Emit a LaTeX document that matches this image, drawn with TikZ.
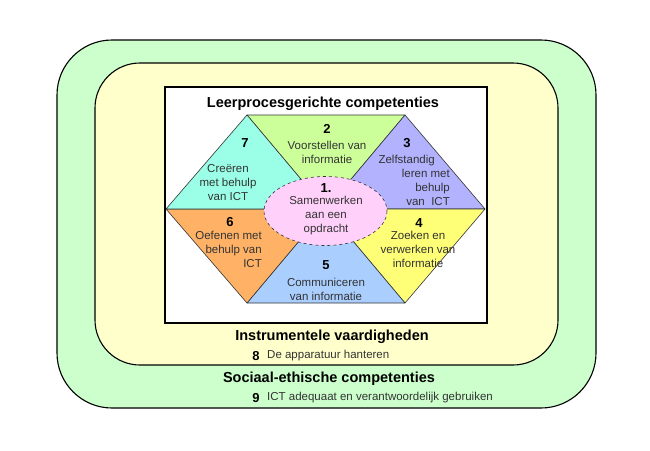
\documentclass[tikz,border=0pt]{standalone}
\usepackage{fontspec}
\setmainfont{Liberation Sans}
\definecolor{mint}{RGB}{204, 255, 204}
\definecolor{cream}{RGB}{255, 255, 204}
\definecolor{lime}{RGB}{204, 255, 153}
\definecolor{aqua}{RGB}{155, 255, 232}
\definecolor{lavender}{RGB}{178, 178, 255}
\definecolor{sun}{RGB}{255, 255, 119}
\definecolor{apricot}{RGB}{255, 178, 102}
\definecolor{sky}{RGB}{170, 207, 255}
\definecolor{blush}{RGB}{255, 208, 250}
\definecolor{ink}{RGB}{51, 51, 51}

\begin{document}
\begin{tikzpicture}[x=1pt, y=-1pt,
    txt/.style={inner sep=0pt, align=center, text=ink, font=\fontsize{11.5}{14}\selectfont},
    num/.style={inner sep=0pt, font=\bfseries\fontsize{13}{15}\selectfont},
    heading/.style={inner sep=0pt, font=\bfseries\fontsize{14.5}{17}\selectfont},
    wedge/.style={draw=ink, line width=0.6pt, line join=round}]
            \useasboundingbox                                        (0, 0) rectangle (650, 450);
            \filldraw[fill=mint,  line width=1.1pt, rounded corners=55pt] (57, 40) rectangle (596, 408);
            \filldraw[fill=cream, line width=1.1pt, rounded corners=45pt] (95, 63) rectangle (558, 365);
            \filldraw[fill=white, line width=1.1pt]                  (165, 87) rectangle (487, 323);
            % hexagon
            \coordinate (mid) at (326, 209);
            \coordinate (nw)  at (247, 115);
            \coordinate (ne)  at (405, 115);
            \coordinate (w)   at (166, 209);
            \coordinate (e)   at (485, 209);
            \coordinate (sw)  at (247, 303);
            \coordinate (se)  at (405, 303);
            \filldraw[wedge, fill=lime]     (nw) -- (ne) -- (mid) -- cycle;
            \filldraw[wedge, fill=lavender] (ne) -- (e)  -- (mid) -- cycle;
            \filldraw[wedge, fill=sun]      (e)  -- (se) -- (mid) -- cycle;
            \filldraw[wedge, fill=sky]      (se) -- (sw) -- (mid) -- cycle;
            \filldraw[wedge, fill=apricot]  (sw) -- (w)  -- (mid) -- cycle;
            \filldraw[wedge, fill=aqua]     (w)  -- (nw) -- (mid) -- cycle;
            \filldraw[draw=ink, fill=blush, dashed, line width=0.6pt] (325.5, 211) ellipse (61.5 and 34.5);
            % texts
            \node[heading] (title) at (323, 104) {Leerprocesgerichte competenties};
            \node[num] (n1) at (326, 188) {1.};
            \node[txt] (t1) at (326, 216) {Samenwerken\\aan een\\opdracht};
            \node[num] (n2) at (327, 129) {2};
            \node[txt] (t2) at (327, 152) {Voorstellen van\\informatie};
            \node[num] (n3) at (407, 143) {3};
            \node[txt, align=right, anchor=east] (t3) at (450, 180.5) {Zelfstandig\hspace*{15pt}\\leren met\hspace*{15pt}\\behulp\hspace*{15pt}\\van\ \ ICT};
            \node[num] (n4) at (419, 223) {4};
            \node[txt] (t4) at (418, 249.5) {Zoeken en\\verwerken van\\informatie};
            \node[num] (n5) at (326, 265) {5};
            \node[txt] (t5) at (326, 289) {Communiceren\\van informatie};
            \node[num] (n6) at (230, 222) {6};
            \node[txt, align=right, anchor=east] (t6) at (262, 249.5) {Oefenen met\\behulp van\\ICT};
            \node[num] (n7) at (245, 143) {7};
            \node[txt] (t7) at (228, 183) {Creëren\\met behulp\\van ICT};
            \node[heading] (instr) at (332, 337) {Instrumentele vaardigheden};
            \node[num] (n8) at (256, 356) {8};
            \node[txt, anchor=west] (t8) at (267, 356) {De apparatuur hanteren};
            \node[heading] (socio) at (329, 379) {Sociaal-ethische competenties};
            \node[num] (n9) at (256, 398) {9};
            \node[txt, anchor=west] (t9) at (267, 398) {ICT adequaat en verantwoordelijk gebruiken};
        \end{tikzpicture}
\end{document}
